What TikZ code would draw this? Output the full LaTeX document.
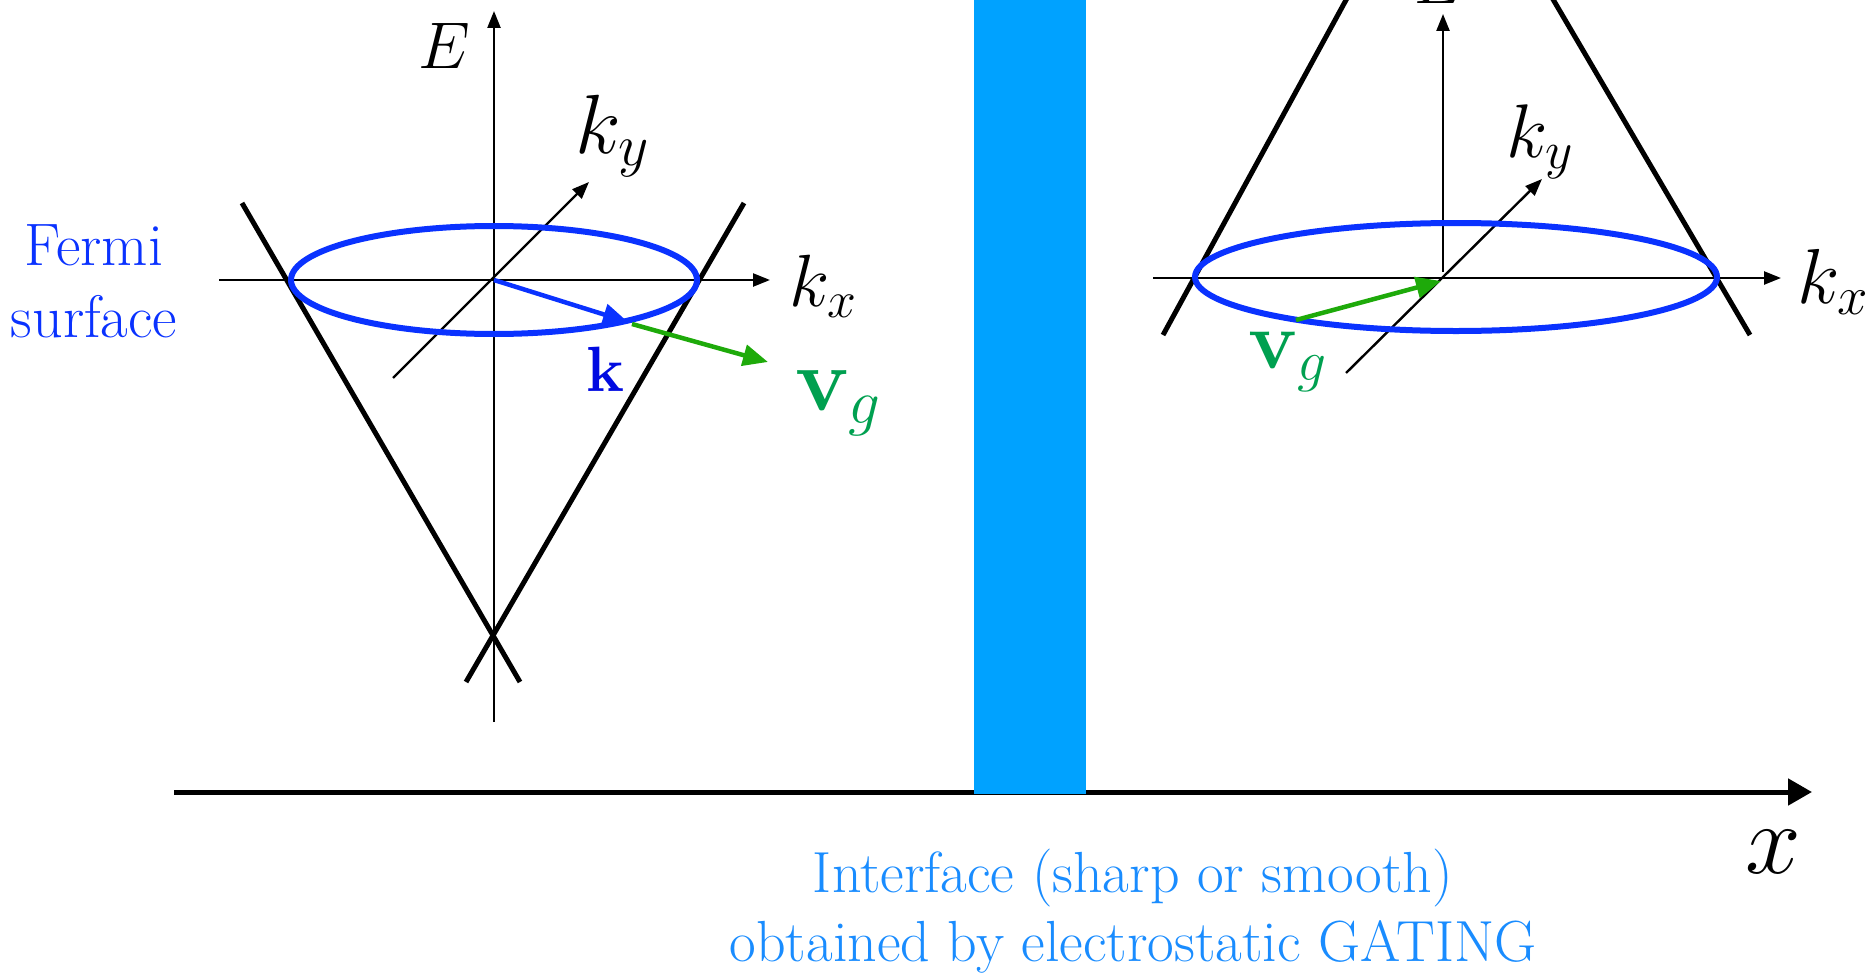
\RequirePackage{fix-cm}
\documentclass[tikz,border=0pt]{standalone}
\usetikzlibrary{arrows.meta}
\definecolor{fsblue}{RGB}{10,50,255}
\definecolor{kblue}{RGB}{0,10,225}
\definecolor{barblue}{RGB}{0,162,255}
\definecolor{ifblue}{RGB}{25,140,255}
\definecolor{arrgreen}{RGB}{30,170,10}
\definecolor{vgreen}{RGB}{0,160,80}
\tikzset{
 thinaxis/.style={line width=2.4pt, -{Triangle[length=17pt,width=13pt]}},
 coneline/.style={line width=5pt},
 fsurf/.style={draw=fsblue, line width=6pt},
 kvec/.style={draw=fsblue, line width=4.5pt, -{Triangle[length=25pt,width=21pt]}},
 gvec/.style={draw=arrgreen, line width=4.5pt, -{Triangle[length=25pt,width=21pt]}},
 lab/.style={inner sep=0pt},
}
\newcommand{\fs}[1]{\fontsize{#1}{#1}\selectfont}
\begin{document}
\begin{tikzpicture}[x=1pt,y=-1pt]
\useasboundingbox (0,0) rectangle (1870,974);
% ---------- left cone ----------
\coordinate (LO) at (494,280);
\coordinate (LEb) at (494,722);
\coordinate (LEt) at (494,11);
\coordinate (LXl) at (219,280);
\coordinate (LXr) at (770,280);
\coordinate (LYb) at (393,378);
\coordinate (LYt) at (589,182);
\coordinate (LC1a) at (242,203);
\coordinate (LC1b) at (520,682);
\coordinate (LC2a) at (744,203);
\coordinate (LC2b) at (466,682);
\draw[coneline] (LC1a) -- (LC1b);
\draw[coneline] (LC2a) -- (LC2b);
\draw[thinaxis] (LEb) -- (LEt);
\draw[thinaxis] (LXl) -- (LXr);
\draw[thinaxis] (LYb) -- (LYt);
\draw[fsurf] (LO) ellipse [x radius=203, y radius=54];
\coordinate (Lk) at (628,322);
\coordinate (Lg0) at (632,324);
\coordinate (Lg1) at (768,362);
\draw[kvec] (LO) -- (Lk);
\draw[gvec] (Lg0) -- (Lg1);
\node[lab, font=\fs{66}] (LE) at (444,46) {$E$};
\node[lab, font=\fs{84}] (Lky) at (612,136) {$k_y$};
\node[lab, font=\fs{74}] (Lkx) at (823,286) {$k_x$};
\node[lab, font=\fs{64}, text=kblue] (Lklab) at (605,369) {$\mathbf{k}$};
\node[lab, font=\fs{90}, text=vgreen] (Lvg) at (838,403) {$\mathbf{v}_g$};
\node[lab, font=\fs{60}, text=fsblue, anchor=base] (FS1) at (94,265) {Fermi};
\node[lab, font=\fs{60}, text=fsblue, anchor=base] (FS2) at (94,337) {surface};
% ---------- right cone ----------
\coordinate (RO) at (1443,278);
\coordinate (REb) at (1443,272);
\coordinate (REt) at (1443,14);
\coordinate (RXl) at (1153,278);
\coordinate (RXr) at (1781,278);
\coordinate (RYb) at (1346,373);
\coordinate (RYt) at (1542,179);
\coordinate (RC1a) at (1163,335);
\coordinate (RC1b) at (1446,-183);
\coordinate (RC2a) at (1750,335);
\coordinate (RC2b) at (1446,-183);
\draw[coneline] (RC1a) -- (RC1b);
\draw[coneline] (RC2a) -- (RC2b);
\draw[thinaxis] (REb) -- (REt);
\draw[thinaxis] (RXl) -- (RXr);
\draw[thinaxis] (RYb) -- (RYt);
\draw[fsurf] (1456,277) ellipse [x radius=261, y radius=54];
\coordinate (Rg0) at (1296,320);
\coordinate (Rg1) at (1441,281);
\draw[gvec] (Rg0) -- (Rg1);
\node[lab, font=\fs{66}, anchor=base] (RE) at (1440,4) {$E$};
\node[lab, font=\fs{76}] (Rky) at (1540,142) {$k_y$};
\node[lab, font=\fs{78}] (Rkx) at (1833,282) {$k_x$};
\node[lab, font=\fs{82}, text=vgreen] (Rvg) at (1288,362) {$\mathbf{v}_g$};
% ---------- x axis and interface ----------
\coordinate (Xl) at (174,792);
\coordinate (Xr) at (1812,792);
\draw[line width=5pt, -{Triangle[length=24pt,width=26pt]}] (Xl) -- (Xr);
\fill[barblue] (974,-2) rectangle (1086,794);
\node[lab, font=\fs{100}] (xlab) at (1773,852) {$x$};
\node[lab, font=\fs{58}, text=ifblue, anchor=base] (if1) at (1133,892) {Interface (sharp or smooth)};
\node[lab, font=\fs{58}, text=ifblue, anchor=base] (if2) at (1133,961) {obtained by electrostatic GATING};
\end{tikzpicture}
\end{document}
